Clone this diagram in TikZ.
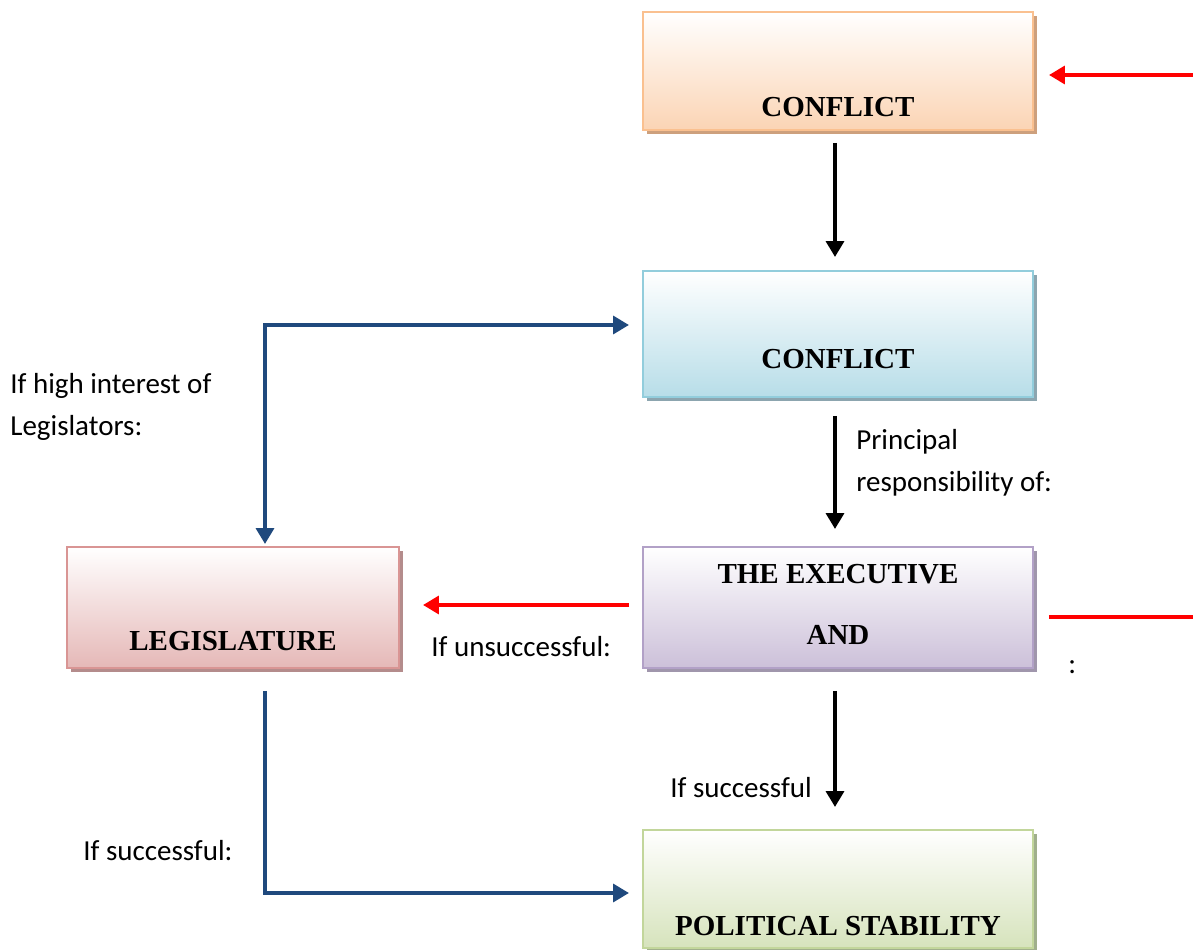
\documentclass[tikz,border=0pt]{standalone}
\usepackage{fontspec}
\setmainfont{Liberation Serif}
\newfontfamily\lblfont{Carlito}
\usepackage{tikz}
\usetikzlibrary{arrows.meta,positioning,shadows}

\definecolor{confAline}{RGB}{250,192,143}
\definecolor{confAfill}{RGB}{251,212,180}
\definecolor{confAshad}{RGB}{205,160,125}
\definecolor{confBline}{RGB}{146,205,220}
\definecolor{confBfill}{RGB}{183,221,232}
\definecolor{confBshad}{RGB}{140,165,175}
\definecolor{execline}{RGB}{178,161,199}
\definecolor{execfill}{RGB}{204,192,217}
\definecolor{execshad}{RGB}{160,150,172}
\definecolor{legline}{RGB}{217,149,148}
\definecolor{legfill}{RGB}{229,184,183}
\definecolor{legshad}{RGB}{180,140,140}
\definecolor{stabline}{RGB}{194,214,155}
\definecolor{stabfill}{RGB}{214,227,188}
\definecolor{stabshad}{RGB}{160,175,140}
\definecolor{flowblue}{RGB}{31,73,125}

\begin{document}
\begin{tikzpicture}[
    box/.style args={#1/#2/#3}{rectangle,draw=#1,line width=1.1pt,top color=white,bottom color=#2,
      minimum width=7.8cm,drop shadow={shadow xshift=0.08cm,shadow yshift=-0.08cm,fill=#3,opacity=1}},
    boxtext/.style={font=\fontsize{16.5}{19.5}\selectfont\bfseries,align=center},
    lbl/.style={font=\lblfont\fontsize{16.5}{24}\selectfont,align=left,anchor=west,inner sep=0pt},
    blackarrow/.style={line width=2.8pt,-{Triangle[width=10pt,length=9pt]}},
    redarrow/.style={red,line width=2.3pt,-{Triangle[width=10pt,length=9pt]}},
    redline/.style={red,line width=2.3pt},
    bluearrow/.style={flowblue,line width=2.5pt,{Triangle[width=10pt,length=9pt]}-{Triangle[width=10pt,length=9pt]}},
    bluepath/.style={flowblue,line width=2.5pt,-{Triangle[width=10pt,length=9pt]}}]

    \useasboundingbox (0,0) rectangle (23.86,-19);

    \node[box=confAline/confAfill/confAshad,minimum height=2.36cm] (conf1) at (16.76,-1.42) {};
    \node[box=confBline/confBfill/confBshad,minimum height=2.52cm] (conf2) at (16.76,-6.68) {};
    \node[box=execline/execfill/execshad,minimum height=2.42cm] (exec) at (16.76,-12.15) {};
    \node[box=legline/legfill/legshad,minimum height=2.42cm,minimum width=6.64cm] (legis) at (4.66,-12.15) {};
    \node[box=stabline/stabfill/stabshad,minimum height=2.36cm] (stab) at (16.76,-17.78) {};

    \node[boxtext] at ([yshift=0.48cm]conf1.south) {CONFLICT};
    \node[boxtext] at ([yshift=0.78cm]conf2.south) {CONFLICT};
    \node[boxtext] at ([yshift=0.06cm]exec.center) {THE EXECUTIVE\\[15pt]AND};
    \node[boxtext] at ([yshift=0.56cm]legis.south) {LEGISLATURE};
    \node[boxtext] at ([yshift=0.46cm]stab.south) {POLITICAL STABILITY};

    \coordinate (redin) at (23.86,-1.5);
    \coordinate (redout) at (23.86,-12.34);

    \draw[redarrow] (redin) -- ([xshift=0.3cm]conf1.east |- redin);
    \draw[blackarrow,shorten <=0.24cm,shorten >=0.26cm] ([xshift=-0.06cm]conf1.south) -- ([xshift=-0.06cm]conf2.north);
    \draw[blackarrow,shorten <=0.36cm,shorten >=0.34cm] ([xshift=-0.06cm]conf2.south) -- ([xshift=-0.06cm]exec.north);
    \draw[blackarrow,shorten <=0.44cm,shorten >=0.44cm] ([xshift=-0.06cm]exec.south) -- ([xshift=-0.06cm]stab.north);
    \draw[redarrow,shorten <=0.26cm,shorten >=0.46cm] ([yshift=0.05cm]exec.west) -- ([yshift=0.05cm]legis.east);
    \draw[redline] ([xshift=0.3cm]exec.east |- redout) -- (redout);
    \draw[bluearrow] ([xshift=0.64cm,yshift=0.04cm]legis.north) |- ([xshift=-0.26cm,yshift=0.18cm]conf2.west);
    \draw[bluepath,shorten <=0.44cm] ([xshift=0.64cm]legis.south) |- ([xshift=-0.26cm,yshift=-0.08cm]stab.west);

    \node[lbl] (highint) at (0.2,-8.14) {If high interest of\\Legislators:};
    \node[lbl] (princ) at (17.12,-9.26) {Principal\\responsibility of:};
    \node[lbl] (unsucc) at (8.62,-12.94) {If unsuccessful:};
    \node[lbl] (colon) at (21.36,-13.34) {:};
    \node[lbl] (succA) at (13.4,-15.76) {If successful};
    \node[lbl] (succB) at (1.66,-17.02) {If successful:};
\end{tikzpicture}
\end{document}
